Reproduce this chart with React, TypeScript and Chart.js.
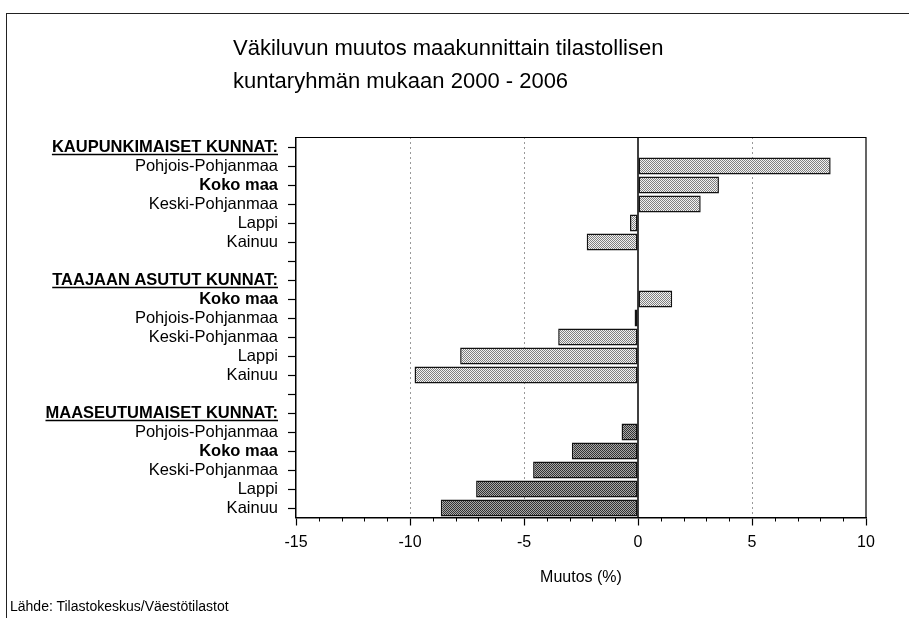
import React, { useEffect, useRef } from "react";
import { Chart, registerables } from "chart.js";

Chart.register(...registerables);

const TITLE_LINES = ["Väkiluvun muutos maakunnittain tilastollisen", "kuntaryhmän mukaan 2000 - 2006"];
const SOURCE = "Lähde: Tilastokeskus/Väestötilastot";
const X_TITLE = "Muutos (%)";

const GROUP_HEADERS = ["KAUPUNKIMAISET KUNNAT:", "TAAJAAN ASUTUT KUNNAT:", "MAASEUTUMAISET KUNNAT:"];
const URBAN_LABELS = ["Pohjois-Pohjanmaa", "Koko maa", "Keski-Pohjanmaa", "Lappi", "Kainuu"];
const URBAN_VALUES = [8.45, 3.55, 2.75, -0.35, -2.25];
const SEMI_LABELS = ["Koko maa", "Pohjois-Pohjanmaa", "Keski-Pohjanmaa", "Lappi", "Kainuu"];
const SEMI_VALUES = [1.5, -0.15, -3.5, -7.8, -9.8];
const RURAL_LABELS = ["Pohjois-Pohjanmaa", "Koko maa", "Keski-Pohjanmaa", "Lappi", "Kainuu"];
const RURAL_VALUES = [-0.72, -2.9, -4.6, -7.1, -8.65];

const X_MIN = -15;
const X_MAX = 10;
const X_STEP = 5;

const FONT = '"Liberation Sans", Arial, sans-serif';
const LABEL_SIZE = 16.5;

// Build table from the arrays
const labels: string[] = [];
const values: (number | null)[] = [];
const groupIndex: number[] = [];
const headerIdx = new Set<number>();
const groups = [
  { labels: URBAN_LABELS, values: URBAN_VALUES },
  { labels: SEMI_LABELS, values: SEMI_VALUES },
  { labels: RURAL_LABELS, values: RURAL_VALUES },
];
groups.forEach((g, gi) => {
  if (gi > 0) {
    labels.push("");
    values.push(null);
    groupIndex.push(-1);
  }
  headerIdx.add(labels.length);
  labels.push(GROUP_HEADERS[gi]);
  values.push(null);
  groupIndex.push(-1);
  g.labels.forEach((l, i) => {
    labels.push(l);
    values.push(g.values[i]);
    groupIndex.push(gi);
  });
});

function makePattern(dark: string, light: string) {
  const c = document.createElement("canvas");
  c.width = 2;
  c.height = 2;
  const g = c.getContext("2d")!;
  g.fillStyle = light;
  g.fillRect(0, 0, 2, 2);
  g.fillStyle = dark;
  g.fillRect(0, 0, 1, 1);
  g.fillRect(1, 1, 1, 1);
  return g.createPattern(c, "repeat")!;
}

export default function App() {
  const ref = useRef<HTMLCanvasElement>(null);

  useEffect(() => {
    const canvas = ref.current!;
    const lightPat = makePattern("#808080", "#f2f2f2");
    const darkPat = makePattern("#333333", "#a8a8a8");

    const decor = {
      id: "decor",
      afterDatasetsDraw(chart: any) {
        const { ctx, chartArea, scales } = chart;
        const x = scales.x;
        const y = scales.y;
        ctx.save();
        // zero line
        const x0 = x.getPixelForValue(0);
        ctx.strokeStyle = "#000";
        ctx.lineWidth = 1.5;
        ctx.beginPath();
        ctx.moveTo(x0, chartArea.top);
        ctx.lineTo(x0, chartArea.bottom);
        ctx.stroke();
        // frame top/right
        ctx.lineWidth = 1.2;
        ctx.beginPath();
        ctx.moveTo(chartArea.left, chartArea.top);
        ctx.lineTo(chartArea.right, chartArea.top);
        ctx.lineTo(chartArea.right, chartArea.bottom);
        ctx.stroke();
        // minor ticks
        ctx.lineWidth = 1;
        for (let v = X_MIN; v <= X_MAX; v++) {
          if (v % X_STEP === 0) continue;
          const px = Math.round(x.getPixelForValue(v)) + 0.5;
          ctx.beginPath();
          ctx.moveTo(px, chartArea.bottom);
          ctx.lineTo(px, chartArea.bottom + 4);
          ctx.stroke();
        }
        // underline headers
        ctx.font = `bold ${LABEL_SIZE}px ${FONT}`;
        const rightX = y.right - 8 - 10;
        headerIdx.forEach((i) => {
          const py = y.getPixelForTick(i) + 7.5;
          const w = ctx.measureText(labels[i]).width;
          ctx.lineWidth = 1.5;
          ctx.beginPath();
          ctx.moveTo(rightX - w, py);
          ctx.lineTo(rightX, py);
          ctx.stroke();
        });
        ctx.restore();
      },
    };

    const chart = new Chart(canvas, {
      type: "bar",
      data: {
        labels,
        datasets: [
          {
            data: values,
            backgroundColor: (c: any) => (groupIndex[c.dataIndex] === 2 ? darkPat : lightPat),
            borderColor: "#111",
            borderWidth: 1.5,
            borderSkipped: false,
            barPercentage: 0.9,
            categoryPercentage: 1,
          },
        ],
      },
      options: {
        indexAxis: "y",
        animation: false,
        responsive: false,
        devicePixelRatio: 1,
        layout: { padding: { left: 0, top: 137.5, right: 43, bottom: 28.5 } },
        plugins: {
          legend: { display: false },
          tooltip: { enabled: false },
          title: { display: false },
        },
        scales: {
          x: {
            type: "linear",
            min: X_MIN,
            max: X_MAX,
            afterFit: (s: any) => {
              s.height = 72;
            },
            ticks: {
              stepSize: X_STEP,
              padding: 7,
              color: "#000",
              font: { family: FONT, size: 16 },
            },
            grid: {
              color: (c: any) => {
                const v = c.tick?.value;
                return v === -10 || v === -5 || v === 5 ? "#333" : "rgba(0,0,0,0)";
              },
              lineWidth: 1,
              tickColor: "#000",
              tickLength: 8,
              tickWidth: 1.2,
            },
            border: { display: true, color: "#000", width: 1.5, dash: [1, 4] },
            title: {
              display: true,
              text: X_TITLE,
              color: "#000",
              font: { family: FONT, size: 16 },
              padding: { top: 0, bottom: 2 },
            },
          },
          y: {
            type: "category",
            afterFit: (s: any) => {
              s.width = 296;
            },
            ticks: {
              autoSkip: false,
              padding: 10,
              color: "#000",
              font: (c: any) => ({
                family: FONT,
                size: LABEL_SIZE,
                weight: headerIdx.has(c.index) || labels[c.index] === "Koko maa" ? "bold" : "normal",
              }),
            },
            grid: {
              drawOnChartArea: false,
              offset: false,
              tickLength: 8,
              tickColor: "#000",
              tickWidth: 1.2,
              color: "#000",
            },
            border: { display: true, color: "#000", width: 1.5 },
          },
        },
      },
      plugins: [decor],
    } as any);

    return () => chart.destroy();
  }, []);

  return (
    <div style={{ position: "fixed", left: 0, top: 0, width: 909, height: 618, background: "#fff", overflow: "hidden" }}>
      <div
        style={{
          position: "absolute",
          left: 6,
          top: 13,
          width: 909,
          height: 618,
          borderTop: "1.5px solid #222",
          borderLeft: "1.5px solid #222",
        }}
      />
      <canvas ref={ref} width={909} height={618} style={{ position: "absolute", left: 0, top: 0 }} />
      <div
        style={{
          position: "absolute",
          left: 233,
          top: 31,
          fontFamily: FONT,
          fontSize: 22,
          lineHeight: "33px",
          color: "#000",
          whiteSpace: "nowrap",
        }}
      >
        {TITLE_LINES.map((t) => (
          <div key={t}>{t}</div>
        ))}
      </div>
      <div
        style={{
          position: "absolute",
          left: 10,
          top: 598,
          fontFamily: FONT,
          fontSize: 14,
          lineHeight: "16px",
          color: "#000",
          whiteSpace: "nowrap",
        }}
      >
        {SOURCE}
      </div>
    </div>
  );
}
